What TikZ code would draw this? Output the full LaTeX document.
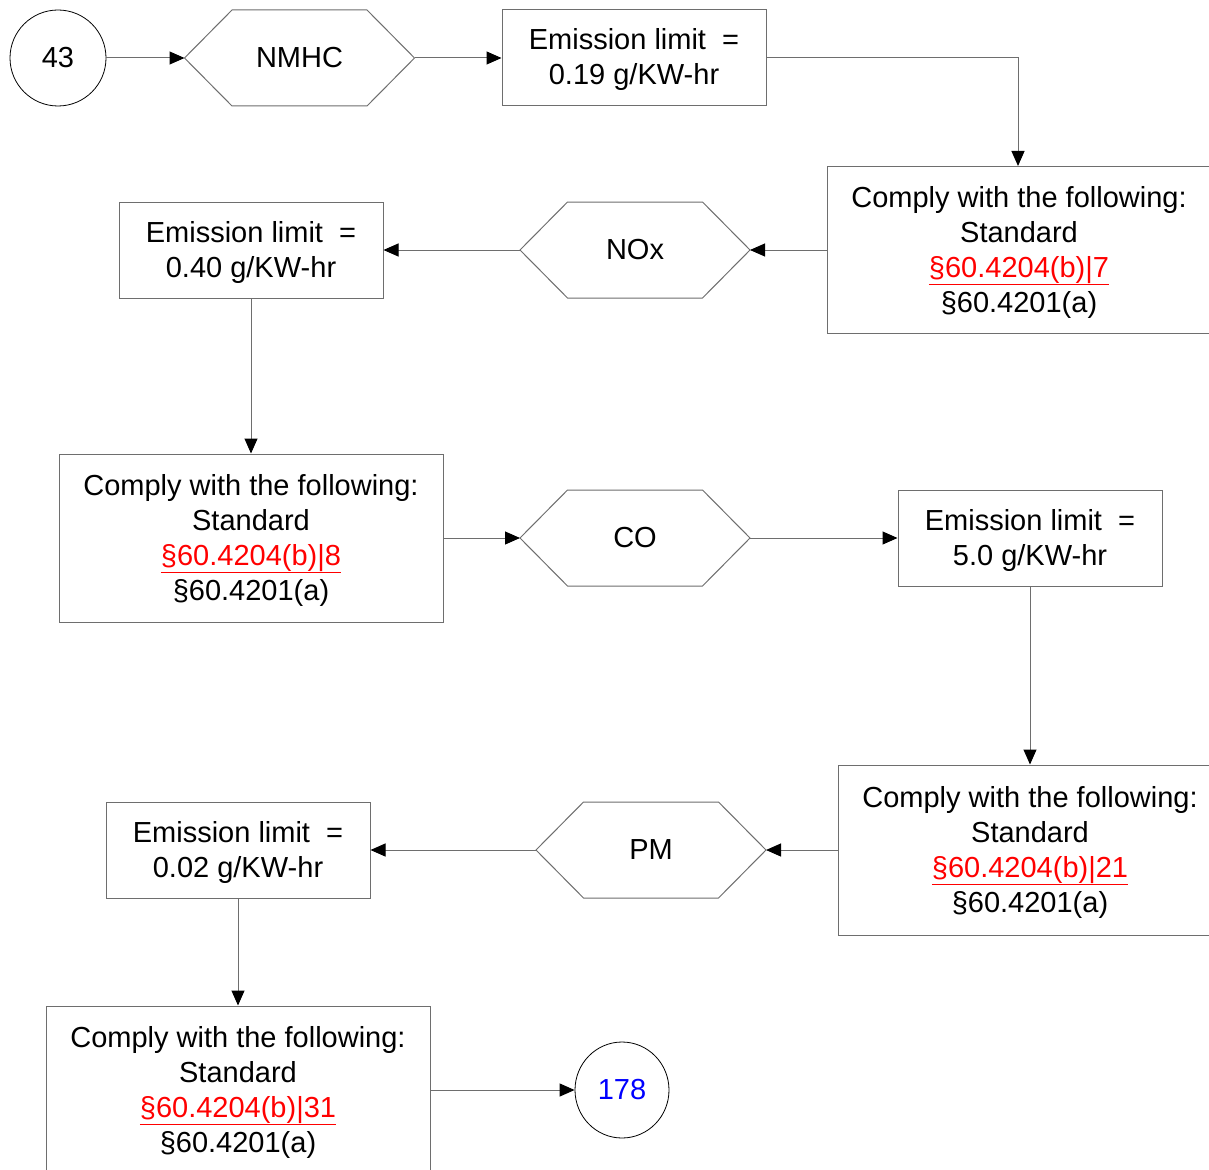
\documentclass[tikz,border=0pt]{standalone}
\usepackage{fontspec}
\setmainfont{Liberation Sans}
\usetikzlibrary{arrows.meta,calc,shapes.geometric}
\definecolor{linegray}{RGB}{110,110,110}
\definecolor{refred}{RGB}{255,0,0}
\definecolor{refblue}{RGB}{0,0,255}
\tikzset{
  base/.style={font=\fontsize{29}{35}\selectfont, align=center, inner sep=0pt},
  emisbox/.style={base, draw=linegray, line width=1pt, minimum width=264pt, minimum height=96pt},
  complybox/.style={base, draw=linegray, line width=1pt, minimum width=384pt},
  hexbox/.style={base, minimum width=230pt, minimum height=96pt, outer sep=0pt},
  hexline/.style={draw=linegray, line width=1pt},
  conn/.style={draw=linegray, line width=1pt, -{Triangle[length=15pt,width=13pt,color=black]}},
  termcircle/.style={base, draw=black, line width=0.8pt, circle, minimum size=96pt}
}
\newcommand\hexnode[3]{%
  \node[hexbox] (#1) at (#2) {#3};
  \draw[hexline] (#1.west) -- ([xshift=47.5pt]#1.north west) -- ([xshift=-47.5pt]#1.north east)
    -- (#1.east) -- ([xshift=-47.5pt]#1.south east) -- ([xshift=47.5pt]#1.south west) -- cycle;
}
\newcommand\reflink[1]{\textcolor{refred}{\underline{#1}}}
\newcommand\lowered[1]{\raisebox{-2.5pt}[\height][\depth]{\begin{tabular}{@{}c@{}}#1\end{tabular}}}
\begin{document}
\begin{tikzpicture}[x=1pt,y=-1pt]
\useasboundingbox (0,0) rectangle (1209,1169);
\clip (0,0) rectangle (1209,1169);
\fill[white] (0,0) rectangle (1209,1169);

\node[termcircle] (c43) at (58,58) {43};
\hexnode{nmhc}{299.5,58}{NMHC}
\node[emisbox] (e1) at (634,58) {\lowered{Emission limit\ \ =\\0.19 g/KW-hr}};
\node[complybox, minimum height=167pt] (k1) at (1019,250) {\lowered{Comply with the following:\\Standard\\\reflink{§60.4204(b)|7}\\§60.4201(a)}};
\hexnode{nox}{635,250}{NOx}
\node[emisbox] (e2) at (251,250) {\lowered{Emission limit\ \ =\\0.40 g/KW-hr}};
\node[complybox, minimum height=168pt] (k2) at (251,538) {\lowered{Comply with the following:\\Standard\\\reflink{§60.4204(b)|8}\\§60.4201(a)}};
\hexnode{co}{635,538}{CO}
\node[emisbox] (e3) at (1030,538) {\lowered{Emission limit\ \ =\\5.0 g/KW-hr}};
\node[complybox, minimum height=170pt] (k3) at (1030,850) {\lowered{Comply with the following:\\Standard\\\reflink{§60.4204(b)|21}\\§60.4201(a)}};
\hexnode{pm}{651,850}{PM}
\node[emisbox] (e4) at (238,850) {\lowered{Emission limit\ \ =\\0.02 g/KW-hr}};
\node[complybox, minimum height=168pt] (k4) at (238,1090) {\lowered{Comply with the following:\\Standard\\\reflink{§60.4204(b)|31}\\§60.4201(a)}};
\node[base, draw=black, line width=0.8pt, ellipse, minimum width=94pt, minimum height=96pt, text=refblue] (c178) at (622,1090) {178};

\draw[conn] (c43.east) -- (nmhc.west);
\draw[conn] (nmhc.east) -- (e1.west);
\draw[conn] (e1.east) -| ([xshift=-1pt]k1.north);
\draw[conn] (k1.west) -- (nox.east);
\draw[conn] (nox.west) -- (e2.east);
\draw[conn] (e2.south) -- (k2.north);
\draw[conn] (k2.east) -- (co.west);
\draw[conn] (co.east) -- (e3.west);
\draw[conn] (e3.south) -- (k3.north);
\draw[conn] (k3.west) -- (pm.east);
\draw[conn] (pm.west) -- (e4.east);
\draw[conn] (e4.south) -- (k4.north);
\draw[conn] (k4.east) -- (c178.west);
\end{tikzpicture}
\end{document}
